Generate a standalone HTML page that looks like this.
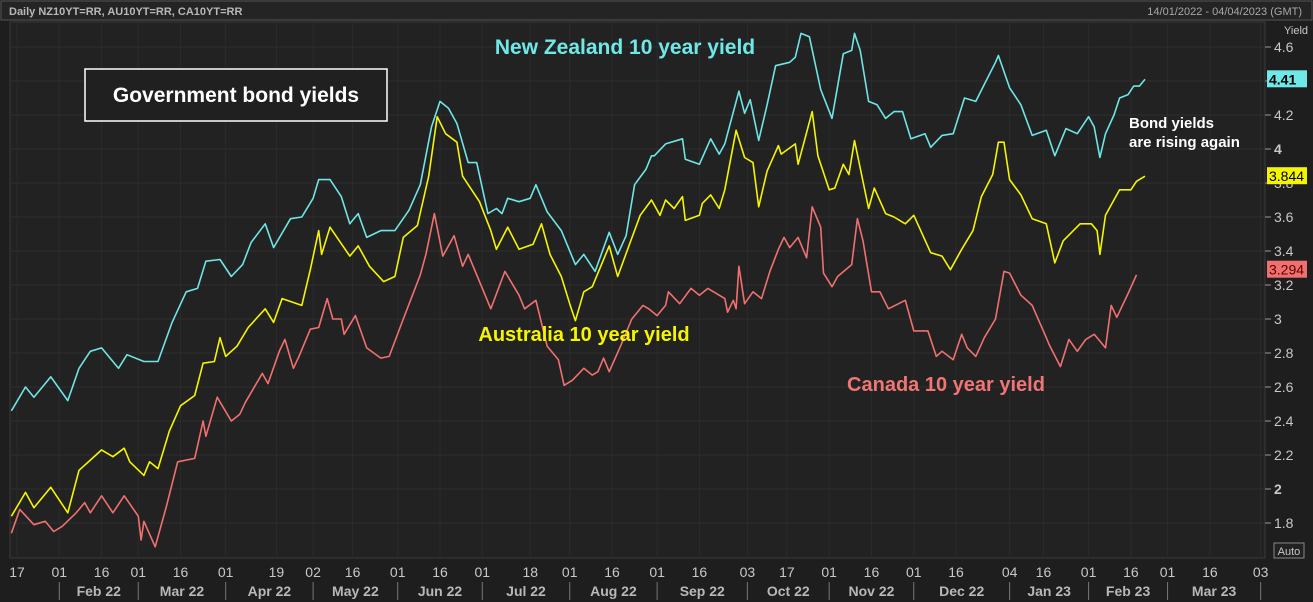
<!DOCTYPE html>
<html><head><meta charset="utf-8">
<style>
html,body{margin:0;padding:0;background:#1c1c1c;}
svg{display:block;font-family:"Liberation Sans",sans-serif;}
</style></head>
<body>
<svg id="chart" width="1313" height="602" viewBox="0 0 1313 602" xmlns="http://www.w3.org/2000/svg">
<rect x="0" y="0" width="1313" height="602" fill="#1e1e1e"/>
<rect x="1" y="1" width="1311" height="19" fill="#242424" stroke="#555"/>
<text x="9" y="15" font-size="11" font-weight="bold" fill="#b8b8b8">Daily NZ10YT=RR, AU10YT=RR, CA10YT=RR</text>
<text x="1302" y="15" font-size="11" fill="#a8a8a8" text-anchor="end">14/01/2022 - 04/04/2023 (GMT)</text>
<rect x="10" y="22" width="1255" height="536" fill="#222222" stroke="#3a3a3a"/>
<g id="grid"></g>
<g id="series"></g>
<g id="xaxis"></g>
<g id="yaxis"></g>
<text x="1284" y="34" font-size="11" fill="#c8c8c8">Yield</text>
<rect x="1274" y="543" width="30" height="15" fill="#222" stroke="#888"/>
<text x="1289" y="555" font-size="11" fill="#c8c8c8" text-anchor="middle">Auto</text>

<text x="625" y="54" font-size="21" font-weight="bold" fill="#6fe8e8" text-anchor="middle">New Zealand 10 year yield</text>
<rect x="85" y="69" width="302" height="52" fill="#202020" stroke="#ffffff" stroke-width="1.5"/>
<text x="236" y="102" font-size="21" font-weight="bold" fill="#ffffff" text-anchor="middle">Government bond yields</text>
<text x="584" y="341" font-size="20" font-weight="bold" fill="#f5f500" text-anchor="middle">Australia 10 year yield</text>
<text x="946" y="391" font-size="20" font-weight="bold" fill="#f07575" text-anchor="middle">Canada 10 year yield</text>
<text x="1129" y="128" font-size="15" font-weight="bold" fill="#ffffff">Bond yields</text>
<text x="1129" y="147" font-size="15" font-weight="bold" fill="#ffffff">are rising again</text>
<g id="tags"></g>
</svg>
<script>
// day offsets from 17 Jan 2022, values in %
const nzDays = [-2,3,6,12,18,22,26,30,36,39,45,50,55,60,64,67,72,76,80,83,88,91,97,101,105,107,111,115,118,121,124,129,134,139,143,147,150,153,156,160,163,167,170,172,174,178,182,184,188,193,198,201,205,210,213,216,219,223,225,226,230,236,237,242,246,249,251,256,258,260,263,266,269,274,276,278,281,285,289,293,296,297,299,302,305,308,311,314,317,322,324,328,332,336,340,343,347,348,352,356,360,365,368,372,376,380,382,384,386,389,391,394,396,398,400];
const nzVals = [2.46,2.60,2.54,2.66,2.52,2.71,2.81,2.83,2.71,2.79,2.75,2.75,2.98,3.16,3.18,3.34,3.35,3.25,3.32,3.45,3.56,3.42,3.59,3.60,3.71,3.82,3.82,3.72,3.56,3.62,3.48,3.52,3.52,3.64,3.79,4.13,4.28,4.24,4.15,3.92,3.92,3.62,3.65,3.62,3.71,3.69,3.71,3.79,3.63,3.52,3.32,3.38,3.28,3.51,3.38,3.49,3.79,3.88,3.96,3.96,4.03,4.06,3.94,3.91,4.06,3.97,4.03,4.34,4.21,4.29,4.05,4.26,4.49,4.51,4.54,4.68,4.66,4.35,4.18,4.56,4.58,4.68,4.58,4.28,4.26,4.18,4.22,4.22,4.06,4.09,4.01,4.08,4.09,4.30,4.28,4.38,4.51,4.55,4.36,4.26,4.08,4.11,3.96,4.12,4.09,4.19,4.13,3.95,4.09,4.20,4.30,4.32,4.37,4.37,4.41];
const auDays = [-2,3,6,12,18,22,26,30,34,38,40,45,47,50,54,58,63,66,70,72,74,78,82,88,91,94,101,104,107,108,111,118,121,125,130,134,137,142,146,149,152,156,158,164,168,170,174,178,183,186,189,193,196,198,201,204,210,213,217,221,225,228,230,233,236,237,242,243,246,249,251,255,258,261,263,266,270,271,276,277,282,284,288,290,293,295,297,302,304,308,311,315,318,324,328,331,335,339,342,346,348,350,352,356,360,365,368,371,377,381,383,384,386,391,395,397,400];
const auVals = [1.84,1.98,1.89,2.01,1.86,2.11,2.17,2.23,2.19,2.24,2.16,2.08,2.16,2.12,2.34,2.49,2.55,2.74,2.75,2.89,2.78,2.84,2.95,3.06,2.98,3.12,3.08,3.29,3.52,3.38,3.54,3.37,3.43,3.31,3.22,3.25,3.48,3.55,3.84,4.19,4.09,4.04,3.84,3.69,3.52,3.41,3.54,3.41,3.44,3.56,3.38,3.25,3.09,2.99,3.16,3.19,3.43,3.25,3.43,3.61,3.70,3.61,3.70,3.65,3.72,3.58,3.61,3.68,3.73,3.65,3.76,4.11,3.95,3.92,3.66,3.87,4.02,3.97,4.03,3.91,4.22,3.96,3.76,3.77,3.91,3.85,4.05,3.65,3.77,3.62,3.60,3.56,3.61,3.39,3.37,3.29,3.41,3.52,3.72,3.85,4.04,4.04,3.82,3.73,3.59,3.56,3.33,3.46,3.56,3.56,3.52,3.38,3.61,3.76,3.76,3.81,3.84];
const caDays = [-2,1,6,10,13,16,21,24,26,30,34,38,43,44,45,49,53,57,63,66,67,71,76,79,81,87,89,93,95,98,100,104,107,110,112,115,116,120,124,129,132,137,143,145,148,151,155,158,160,164,168,173,178,180,184,188,192,194,197,201,204,206,208,210,214,218,222,224,227,230,231,235,239,242,245,249,251,252,254,255,256,258,261,264,267,270,272,274,277,280,282,285,286,289,291,296,298,300,303,306,309,315,318,323,326,328,332,335,337,340,343,347,350,352,356,360,365,366,370,373,376,379,382,386,388,390,394,397];
const caVals = [1.74,1.88,1.79,1.81,1.75,1.78,1.86,1.92,1.86,1.96,1.86,1.96,1.84,1.70,1.81,1.66,1.90,2.16,2.18,2.40,2.31,2.54,2.40,2.44,2.51,2.68,2.62,2.81,2.88,2.71,2.78,2.94,2.95,3.12,3.00,3.00,2.91,3.02,2.83,2.77,2.78,3.00,3.26,3.38,3.62,3.37,3.49,3.31,3.38,3.22,3.06,3.28,3.14,3.06,3.11,2.84,2.76,2.61,2.64,2.71,2.67,2.69,2.77,2.69,2.84,3.00,3.08,3.06,3.02,3.08,3.16,3.09,3.18,3.14,3.18,3.14,3.12,3.04,3.11,3.06,3.31,3.09,3.16,3.12,3.28,3.41,3.48,3.42,3.48,3.36,3.66,3.54,3.27,3.19,3.25,3.32,3.59,3.46,3.16,3.16,3.06,3.11,2.93,2.93,2.78,2.81,2.76,2.91,2.83,2.78,2.89,3.00,3.28,3.27,3.14,3.08,2.89,2.85,2.72,2.88,2.81,2.88,2.91,2.83,3.08,3.01,3.15,3.26,3.29];
const yTicks = [1.8,2.0,2.2,2.4,2.6,2.8,3.0,3.2,3.4,3.6,3.8,4.0,4.2,4.4,4.6];
const yTickLabels = ["1.8","2","2.2","2.4","2.6","2.8","3","3.2","3.4","3.6","3.8","4","4.2","4.4","4.6"];
const xTickDays = [0,15,30,43,58,74,92,105,119,135,150,165,182,196,211,227,242,259,273,288,303,318,333,352,364,380,395,408,423,441];
const xTickLabels = ["17","01","16","01","16","01","19","02","16","01","16","01","18","01","16","01","16","03","17","01","16","01","16","04","16","01","16","01","16","03"];
const monthStartDays = [15,43,74,105,135,165,196,227,259,288,318,352,380,408,441];
const monthLabels = ["Feb 22","Mar 22","Apr 22","May 22","Jun 22","Jul 22","Aug 22","Sep 22","Oct 22","Nov 22","Dec 22","Jan 23","Feb 23","Mar 23"];
const lastTags = ["4.41","3.844","3.294"];

const NS = "http://www.w3.org/2000/svg";
function xs(d){ return 17 + d * 2.82; }
function ys(v){ return 47 + (4.6 - v) * 170; }
function mk(tag, attrs, parent){ const e = document.createElementNS(NS, tag); for (const k in attrs) e.setAttribute(k, attrs[k]); parent.appendChild(e); return e; }

const grid = document.getElementById('grid');
const xaxis = document.getElementById('xaxis');
const yaxis = document.getElementById('yaxis');
yTicks.forEach((t, i) => {
  const y = ys(t);
  const g = mk('line', {x1:10, x2:1265, y1:y, y2:y, stroke:'#2f2f2f', 'stroke-width':1}, grid);
  
  
  const tk = mk('line', {x1:1265, x2:1271, y1:y, y2:y, stroke:'#999'}, yaxis);
  
  
  const bold = (yTickLabels[i] === "2" || yTickLabels[i] === "4");
  const tx = mk('text', {x:1274, y:y+5, 'font-size':14, fill:'#c8c8c8', 'font-weight': bold ? 'bold' : 'normal'}, yaxis);
  tx.textContent = yTickLabels[i];
  
  
});
xTickDays.forEach((d, i) => {
  const x = xs(d);
  const g = mk('line', {x1:x, x2:x, y1:22, y2:558, stroke:'#2b2b2b', 'stroke-width':1}, grid);
  
  
  const tx = mk('text', {x:x, y:577, 'font-size':14, fill:'#c8c8c8', 'text-anchor':'middle'}, xaxis);
  tx.textContent = xTickLabels[i];
  
  
});
monthStartDays.forEach((d, i) => {
  const x = xs(d);
  const s = mk('line', {x1:x, x2:x, y1:582, y2:600, stroke:'#777'}, xaxis);
  
  
  if (i < monthLabels.length) {
    const cx = (x + xs(monthStartDays[i+1])) / 2;
    const tx = mk('text', {x:cx, y:596, 'font-size':14, 'font-weight':'bold', fill:'#b8b8b8', 'text-anchor':'middle'}, xaxis);
    tx.textContent = monthLabels[i];
    
    
  }
});
const sg = document.getElementById('series');
function drawLine(days, vals, color, name){
  const pts = days.map((d, i) => xs(d).toFixed(1) + ',' + ys(vals[i]).toFixed(1)).join(' ');
  const p = mk('polyline', {points:pts, fill:'none', stroke:color, 'stroke-width':1.6, 'stroke-linejoin':'round'}, sg);
  
  
}
drawLine(caDays, caVals, '#f07070', 'canada-yield-line');
drawLine(auDays, auVals, '#f5f500', 'australia-yield-line');
drawLine(nzDays, nzVals, '#6fe5e5', 'new-zealand-yield-line');

const tg = document.getElementById('tags');
const tagDefs = [[nzVals, '#6fe8e8', '#000'], [auVals, '#f5f500', '#000'], [caVals, '#f07070', '#5a0000']];
tagDefs.forEach((td, i) => {
  const v = td[0][td[0].length - 1];
  const y = ys(v);
  const r = mk('rect', {x:1267, y:y-9, width:40, height:17, fill:td[1]}, tg);
  
  
  const t = mk('text', {x:1269, y:y+5, 'font-size':14, 'font-weight': i === 0 ? 'bold' : 'normal', fill:td[2]}, tg);
  t.textContent = lastTags[i];
  
  
});
</script>
</body></html>
